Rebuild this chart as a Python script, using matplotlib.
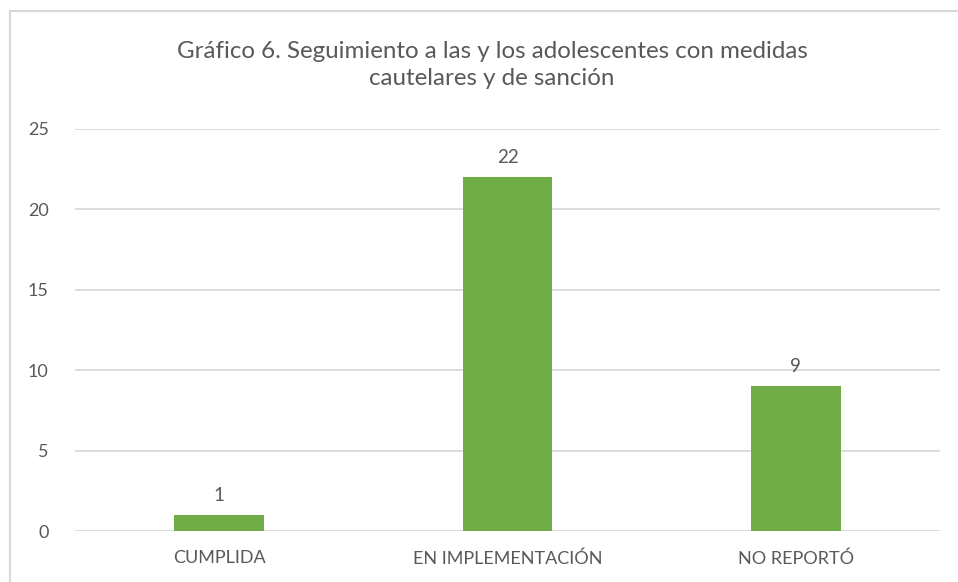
import matplotlib.pyplot as plt
from matplotlib.patches import Rectangle

categories = ["CUMPLIDA", "EN IMPLEMENTACIÓN", "NO REPORTÓ"]
values = [1, 22, 9]
yticks = [0, 5, 10, 15, 20, 25]

BAR_COLOR = "#70AD47"
TEXT_COLOR = "#595959"
GRID_COLOR = "#D9D9D9"

plt.rcParams['font.family'] = ['Lato', 'DejaVu Sans']

fig = plt.figure(figsize=(9.58, 5.82), dpi=100)
ax = fig.add_axes([75 / 958, 1 - 531 / 582, 865 / 958, 402 / 582])

x = list(range(len(categories)))
ax.bar(x, values, width=0.31, color=BAR_COLOR, zorder=3)
for xi, v in zip(x, values):
    ax.text(xi, v + 0.7, str(v), ha="center", va="bottom", fontsize=13.5, color=TEXT_COLOR)

ax.set_xlim(-0.5, 2.5)
ax.set_ylim(0, 25)
ax.set_yticks(yticks)
ax.set_xticks(x)
ax.set_xticklabels(categories)
ax.tick_params(axis="both", length=0, colors=TEXT_COLOR, labelsize=13)
ax.tick_params(axis="y", pad=19)
ax.tick_params(axis="x", pad=14)
ax.yaxis.grid(True, color=GRID_COLOR, linewidth=1.3, zorder=0)
for s in ax.spines.values():
    s.set_visible(False)

fig.text(492 / 958, 1 - 65 / 582,
         "Gráfico 6. Seguimiento a las y los adolescentes con medidas\ncautelares y de sanción",
         ha="center", va="center", fontsize=17.4, color=TEXT_COLOR, linespacing=1.3)

# outer chart frame
fig.patches.append(Rectangle((10 / 958, -0.1), 1.2, 1 - 11 / 582 + 0.1,
                             transform=fig.transFigure, fill=False,
                             edgecolor="#D9D9D9", linewidth=1.5))

fig.savefig("out.png", dpi=100)
